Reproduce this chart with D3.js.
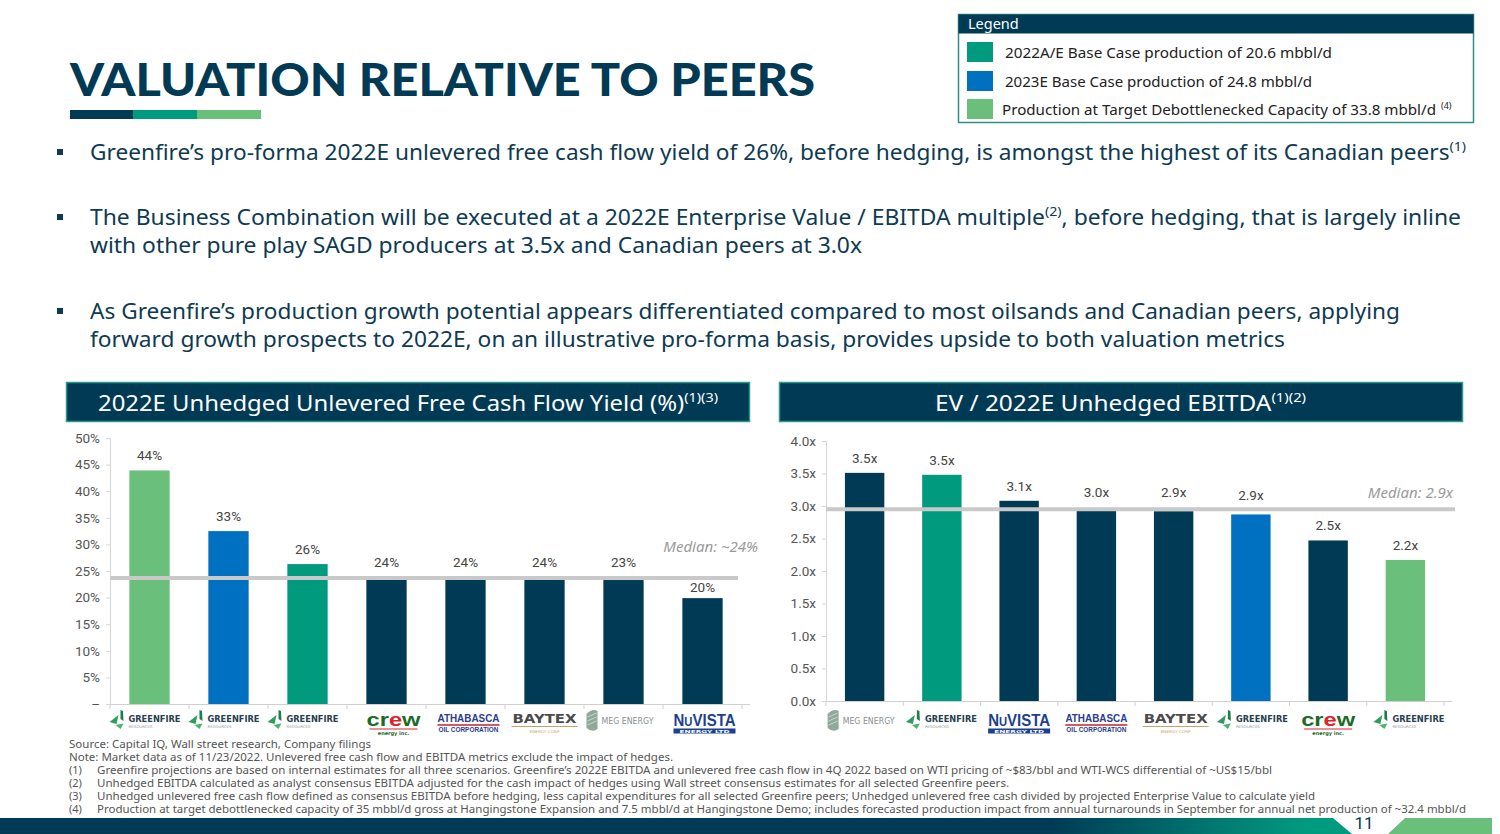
<!DOCTYPE html>
<html><head><meta charset="utf-8">
<script src="https://cdn.jsdelivr.net/npm/d3@7"></script>
<style>
body{margin:0;background:#fff;}
svg{display:block;}
</style>
</head><body>
<svg id="c" width="1500" height="834"></svg>
<script>
// ---------------- DATA ----------------
const leftCompanies = ["Greenfire","Greenfire","Greenfire","Crew","Athabasca","Baytex","MEG Energy","NuVista"];
const leftSeries    = ["debottlenecked","base2023","base2022","peer","peer","peer","peer","peer"];
const leftValues    = [43.9, 32.5, 26.3, 23.9, 23.4, 23.4, 23.3, 19.9];
const leftLabels    = ["44%","33%","26%","24%","24%","24%","23%","20%"];
const leftMedian    = 23.7;
const leftMedianLabel = "Median: ~24%";
const leftTicks     = [0,5,10,15,20,25,30,35,40,45,50];
const leftTickLabels= ["–","5%","10%","15%","20%","25%","30%","35%","40%","45%","50%"];

const rightCompanies = ["MEG Energy","Greenfire","NuVista","Athabasca","Baytex","Greenfire","Crew","Greenfire"];
const rightSeries    = ["peer","base2022","peer","peer","peer","base2023","peer","debottlenecked"];
const rightValues    = [3.51, 3.48, 3.08, 2.93, 2.92, 2.87, 2.47, 2.17];
const rightLabels    = ["3.5x","3.5x","3.1x","3.0x","2.9x","2.9x","2.5x","2.2x"];
const rightMedian    = 2.95;
const rightMedianLabel = "Median: 2.9x";
const rightTicks     = [0,0.5,1,1.5,2,2.5,3,3.5,4];
const rightTickLabels= ["0.0x","0.5x","1.0x","1.5x","2.0x","2.5x","3.0x","3.5x","4.0x"];

const legendKeys   = ["base2022","base2023","debottlenecked"];
const legendLabels = ["2022A/E Base Case production of 20.6 mbbl/d","2023E Base Case production of 24.8 mbbl/d","Production at Target Debottlenecked Capacity of 33.8 mbbl/d"];

// ---------------- STYLE ----------------
const NAVY="#003a55", TEAL="#009a7e", BLUE="#0070c0", LGREEN="#6abf7a";
const colorOf = {peer:NAVY, base2022:TEAL, base2023:BLUE, debottlenecked:LGREEN};
const FONT = "'Noto Sans', 'Open Sans', sans-serif";
const NUMF = "Roboto, 'Liberation Sans', sans-serif";

const svg = d3.select("#c");
const defs = svg.append("defs");

// ---------------- HEADER ----------------
svg.append("text").attr("x",70).attr("y",96)
  .attr("font-family","Lato, 'Noto Sans', sans-serif").attr("font-weight",900).attr("font-size",45)
  .attr("fill",NAVY).attr("textLength",745).attr("lengthAdjust","spacingAndGlyphs")
  .text("VALUATION RELATIVE TO PEERS");
[[NAVY,70],[TEAL,133],[LGREEN,197]].forEach(([c,x])=>{
  svg.append("rect").attr("x",x).attr("y",110).attr("width",64).attr("height",9).attr("fill",c);
});

// Legend
const lg = svg.append("g");
lg.append("rect").attr("x",958.5).attr("y",14.5).attr("width",515).attr("height",108)
  .attr("fill","#fff").attr("stroke","#2f8f84").attr("stroke-width",1.5);
lg.append("rect").attr("x",958.5).attr("y",14.5).attr("width",515).attr("height",19).attr("fill",NAVY);
lg.append("text").attr("x",968).attr("y",29).attr("font-family",FONT).attr("font-size",14.5)
  .attr("fill","#fff").text("Legend");
const legY=[42,71,99], legTL=[327,307,434];
legendKeys.forEach((k,i)=>{
  lg.append("rect").attr("x",967).attr("y",legY[i]).attr("width",26).attr("height",20).attr("fill",colorOf[k]);
  lg.append("text").attr("x", i===2?1002:1005).attr("y",legY[i]+15.5)
    .attr("font-family",FONT).attr("font-size",14.5).attr("fill","#222")
    .attr("textLength",legTL[i]).attr("lengthAdjust","spacingAndGlyphs").text(legendLabels[i]);
  if(i===2){
    lg.append("text").attr("x",1441).attr("y",legY[i]+10).attr("font-family",FONT).attr("font-size",9)
      .attr("fill","#222").text("(4)");
  }
});

// Bullets
function richLine(x,y,parts,len,size){
  const t = svg.append("text").attr("x",x).attr("y",y).attr("font-family",FONT).attr("font-size",size)
    .attr("fill","#0e3a52");
  if(len) t.attr("textLength",len).attr("lengthAdjust","spacingAndGlyphs");
  let shifted=false;
  parts.forEach(p=>{
    if(typeof p==="string"){
      const ts=t.append("tspan").text(p);
      if(shifted){ ts.attr("dy",size*0.42); shifted=false; }
    } else {
      t.append("tspan").attr("font-size",size*0.62).attr("dy",-size*0.42).text(p.sup);
      shifted=true;
    }
  });
  return t;
}
const bulletY=[152,217,311];
bulletY.forEach(y=>svg.append("rect").attr("x",57).attr("y",y-3).attr("width",6).attr("height",6).attr("fill","#0e3a52"));
richLine(90,160,["Greenfire’s pro-forma 2022E unlevered free cash flow yield of 26%, before hedging, is amongst the highest of its Canadian peers",{sup:"(1)"}],1376,21.5);
richLine(90,225,["The Business Combination will be executed at a 2022E Enterprise Value / EBITDA multiple",{sup:"(2)"},", before hedging, that is largely inline"],1371,21.5);
richLine(90,253,["with other pure play SAGD producers at 3.5x and Canadian peers at 3.0x"],772,21.5);
richLine(90,319,["As Greenfire’s production growth potential appears differentiated compared to most oilsands and Canadian peers, applying"],1310,21.5);
richLine(90,347,["forward growth prospects to 2022E, on an illustrative pro-forma basis, provides upside to both valuation metrics"],1195,21.5);

// ---------------- LOGOS ----------------
function logo(g,name){
  if(name==="Greenfire"){
    g.append("path").attr("d","M-40,2 L-31,-5 L-33,4 Z").attr("fill","#2e9c5a");
    g.append("path").attr("d","M-29,-10 L-26.5,-9 L-26,1 L-29,-1 Z").attr("fill","#1d7d4b");
    g.append("path").attr("d","M-34,5 L-26,3.5 L-29,9 Z").attr("fill","#4db26c");
    g.append("text").attr("x",-21).attr("y",1.5).attr("font-family","'DejaVu Sans', sans-serif").attr("font-weight",700)
      .attr("font-size",8).attr("fill","#27404f").attr("textLength",52).attr("lengthAdjust","spacingAndGlyphs").text("GREENFIRE");
    g.append("text").attr("x",-21).attr("y",7.5).attr("font-family","'DejaVu Sans', sans-serif")
      .attr("font-size",3.6).attr("fill","#8a9aa3").attr("textLength",24).attr("lengthAdjust","spacingAndGlyphs").text("RESOURCES");
  } else if(name==="Crew"){
    const t=g.append("text").attr("x",-27).attr("y",6).attr("font-family","'Liberation Sans', Arial, sans-serif")
      .attr("font-weight",700).attr("font-size",19).attr("fill","#1b6b27").attr("textLength",54).attr("lengthAdjust","spacingAndGlyphs");
    t.append("tspan").text("cr"); t.append("tspan").attr("fill","#d8242a").text("e"); t.append("tspan").text("w");
    g.append("line").attr("x1",-24).attr("x2",24).attr("y1",9).attr("y2",9).attr("stroke","#d8242a").attr("stroke-width",1);
    g.append("text").attr("x",0).attr("y",14.5).attr("text-anchor","middle").attr("font-family","'DejaVu Sans', sans-serif")
      .attr("font-weight",700).attr("font-size",5).attr("fill","#1b6b27").text("energy inc.");
  } else if(name==="Athabasca"){
    g.append("text").attr("x",0).attr("y",2).attr("text-anchor","middle").attr("font-family","'Liberation Sans', sans-serif")
      .attr("font-weight",700).attr("font-size",11.5).attr("fill","#2a3e8e").attr("textLength",62).attr("lengthAdjust","spacingAndGlyphs").text("ATHABASCA");
    g.append("line").attr("x1",-31).attr("x2",31).attr("y1",5).attr("y2",5).attr("stroke","#c8202f").attr("stroke-width",1.5);
    g.append("text").attr("x",0).attr("y",12).attr("text-anchor","middle").attr("font-family","'Liberation Sans', sans-serif")
      .attr("font-weight",700).attr("font-size",6.5).attr("fill","#2a3e8e").attr("textLength",60).attr("lengthAdjust","spacingAndGlyphs").text("OIL CORPORATION");
  } else if(name==="Baytex"){
    g.append("text").attr("x",0).attr("y",3).attr("text-anchor","middle").attr("font-family","'DejaVu Sans', sans-serif")
      .attr("font-weight",700).attr("font-size",11.5).attr("fill","#4b4b4b").attr("textLength",64).attr("lengthAdjust","spacingAndGlyphs").text("BAYTEX");
    g.append("line").attr("x1",-33).attr("x2",33).attr("y1",6.5).attr("y2",6.5).attr("stroke","#c9a26a").attr("stroke-width",1);
    g.append("text").attr("x",0).attr("y",12.5).attr("text-anchor","middle").attr("font-family","'DejaVu Sans', sans-serif")
      .attr("font-size",3.8).attr("fill","#c9a26a").attr("textLength",30).attr("lengthAdjust","spacingAndGlyphs").text("ENERGY CORP");
  } else if(name==="MEG Energy"){
    g.append("path").attr("d","M-37,-6 Q-31,-12 -26,-9 L-26,9 Q-31,13 -37,8 Z").attr("fill","#8fa89a");
    g.append("path").attr("d","M-36,-3 L-27,-7 M-36,1 L-27,-3 M-36,5 L-27,1").attr("stroke","#c9d6cf").attr("stroke-width",1);
    g.append("text").attr("x",-22).attr("y",4).attr("font-family","'DejaVu Sans', sans-serif")
      .attr("font-size",8).attr("fill","#8a8f93").attr("textLength",52).attr("lengthAdjust","spacingAndGlyphs").text("MEG ENERGY");
  } else if(name==="NuVista"){
    const t=g.append("text").attr("x",0).attr("y",6).attr("text-anchor","middle").attr("font-family","'Liberation Sans', sans-serif")
      .attr("font-weight",700).attr("font-size",16).attr("fill","#1c3f8e").attr("textLength",62).attr("lengthAdjust","spacingAndGlyphs");
    t.append("tspan").text("N"); t.append("tspan").attr("font-size",12).text("U"); t.append("tspan").text("VISTA");
    g.append("rect").attr("x",-31).attr("y",8.5).attr("width",62).attr("height",5).attr("fill","#1c3f8e");
    g.append("text").attr("x",0).attr("y",12.6).attr("text-anchor","middle").attr("font-family","'DejaVu Sans', sans-serif")
      .attr("font-weight",700).attr("font-size",4).attr("fill","#fff").attr("textLength",50).attr("lengthAdjust","spacingAndGlyphs").text("ENERGY LTD");
  }
}

// ---------------- CHART BUILDER ----------------
function chart(o){
  const g = svg.append("g");
  g.append("rect").attr("x",o.boxX+0.5).attr("y",382.5).attr("width",683).attr("height",39)
    .attr("fill",NAVY).attr("stroke","#2c9a8a").attr("stroke-width",1.5);
  const tt = g.append("text").attr("x",o.titleX).attr("y",411).attr("font-family",FONT).attr("font-size",21.5)
    .attr("fill","#fff").attr("textLength",o.titleLen).attr("lengthAdjust","spacingAndGlyphs");
  tt.append("tspan").text(o.title);
  tt.append("tspan").attr("font-size",13).attr("dy",-9).text(o.sup);

  const ids = d3.range(o.values.length);
  const x = d3.scaleBand().domain(ids).range([o.x0,o.x1]).paddingInner(0.49).paddingOuter(0.245);
  const y = d3.scaleLinear().domain(o.domain).range([o.yBottom,o.yTop]);

  const ya = g.append("g").attr("transform",`translate(${o.x0},0)`)
    .call(d3.axisLeft(y).tickValues(o.ticks).tickFormat((d,i)=>o.tickLabels[i]).tickSize(4).tickPadding(6));
  ya.select(".domain").attr("stroke","#d6d6d6");
  ya.selectAll(".tick line").attr("stroke","#d6d6d6");
  ya.selectAll(".tick text").attr("font-family",NUMF).attr("font-size",13.5).attr("fill","#555");

  g.selectAll(".bar").data(ids).enter().append("rect")
    .attr("x",i=>x(i)).attr("width",x.bandwidth())
    .attr("y",i=>y(o.values[i])).attr("height",i=>y(0)-y(o.values[i]))
    .attr("fill",i=>colorOf[o.series[i]]);

  g.append("line").attr("x1",o.x0).attr("x2",o.x1+8).attr("y1",y(0)+0.5).attr("y2",y(0)+0.5).attr("stroke","#d0d0d0").attr("stroke-width",1.2);
  const bw = (o.x1-o.x0)/o.values.length;
  const bounds = d3.range(o.values.length+1).map(k=>o.x0 + k*bw);
  g.selectAll(".bt").data(bounds).enter().append("line")
    .attr("x1",d=>d).attr("x2",d=>d).attr("y1",y(0)).attr("y2",y(0)+5).attr("stroke","#d0d0d0");

  g.append("line").attr("x1",o.x0).attr("x2",o.medX2).attr("y1",y(o.median)).attr("y2",y(o.median))
    .attr("stroke","#c9c9c9").attr("stroke-width",4);
  g.append("text").attr("x",o.medLabelX).attr("y",o.medLabelY).attr("text-anchor","end")
    .attr("font-family",FONT).attr("font-style","italic").attr("font-size",15).attr("fill","#9a9a9a").text(o.medianLabel);

  g.selectAll(".vl").data(ids).enter().append("text")
    .attr("x",i=>x(i)+x.bandwidth()/2).attr("y",i=>o.labelY(i,y))
    .attr("text-anchor","middle").attr("font-family",NUMF).attr("font-size",13.5).attr("fill","#444")
    .text(i=>o.labels[i]);

  ids.forEach(i=>{
    const lgp = g.append("g").attr("transform",`translate(${x(i)+x.bandwidth()/2+o.logoShift[i]},720)`);
    logo(lgp,o.companies[i]);
  });
}

chart({boxX:66, titleX:98, titleLen:620, title:"2022E Unhedged Unlevered Free Cash Flow Yield (%)", sup:"(1)(3)",
  values:leftValues, labels:leftLabels, series:leftSeries, companies:leftCompanies,
  domain:[0,50], ticks:leftTicks, tickLabels:leftTickLabels, x0:110, x1:742, yTop:438, yBottom:704,
  median:leftMedian, medianLabel:leftMedianLabel, medX2:738, medLabelX:758, medLabelY:552,
  logoShift:[0,0,0,7,3,0,0,2],
  labelY:(i,y)=> (i>=3 && i<=6) ? y(leftMedian)-11 : y(leftValues[i])-10 + (i===7?4:0)});

chart({boxX:779, titleX:935, titleLen:371, title:"EV / 2022E Unhedged EBITDA", sup:"(1)(2)",
  values:rightValues, labels:rightLabels, series:rightSeries, companies:rightCompanies,
  domain:[0,4], ticks:rightTicks, tickLabels:rightTickLabels, x0:826, x1:1444, yTop:441, yBottom:701,
  median:rightMedian, medianLabel:rightMedianLabel, medX2:1455, medLabelX:1453, medLabelY:498,
  logoShift:[0,4,0,0,2,6,0,8],
  labelY:(i,y)=> y(rightValues[i]) - 10 - (i>=3 && i<=5 ? 4 : 0)});

// ---------------- FOOTNOTES ----------------
const notes = [
  ["","Source: Capital IQ, Wall street research, Company filings",302],
  ["","Note: Market data as of 11/23/2022. Unlevered free cash flow and EBITDA metrics exclude the impact of hedges.",604],
  ["(1)","Greenfire projections are based on internal estimates for all three scenarios. Greenfire’s 2022E EBITDA and unlevered free cash flow in 4Q 2022 based on WTI pricing of ~$83/bbl and WTI-WCS differential of ~US$15/bbl",1175],
  ["(2)","Unhedged EBITDA calculated as analyst consensus EBITDA adjusted for the cash impact of hedges using Wall street consensus estimates for all selected Greenfire peers.",912],
  ["(3)","Unhedged unlevered free cash flow defined as consensus EBITDA before hedging, less capital expenditures for all selected Greenfire peers; Unhedged unlevered free cash divided by projected Enterprise Value to calculate yield",1218],
  ["(4)","Production at target debottlenecked capacity of 35 mbbl/d gross at Hangingstone Expansion and 7.5 mbbl/d at Hangingstone Demo; includes forecasted production impact from annual turnarounds in September for annual net production of ~32.4 mbbl/d",1369]
];
notes.forEach((n,i)=>{
  const yy = 748 + i*13;
  if(n[0]) svg.append("text").attr("x",69).attr("y",yy).attr("font-family",FONT).attr("font-size",11).attr("fill","#555").text(n[0]);
  svg.append("text").attr("x",n[0]?97:69).attr("y",yy).attr("font-family",FONT).attr("font-size",11).attr("fill","#555")
    .attr("textLength",n[2]).attr("lengthAdjust","spacingAndGlyphs").text(n[1]);
});

// ---------------- BOTTOM BAND ----------------
const grad = defs.append("linearGradient").attr("id","bandg").attr("gradientUnits","userSpaceOnUse")
  .attr("x1",0).attr("x2",1345).attr("y1",0).attr("y2",0);
grad.append("stop").attr("offset",0.78).attr("stop-color",NAVY);
grad.append("stop").attr("offset",0.97).attr("stop-color",TEAL);
svg.append("path").attr("d","M0,818 L1333,818 L1352,834 L0,834 Z").attr("fill","url(#bandg)");
svg.append("path").attr("d","M1405,818 L1492,818 L1492,834 L1388,834 Z").attr("fill",LGREEN);
svg.append("text").attr("x",1364).attr("y",829).attr("text-anchor","middle").attr("font-family",NUMF)
  .attr("font-size",17).attr("fill",NAVY).text("11");
</script>
</body></html>
